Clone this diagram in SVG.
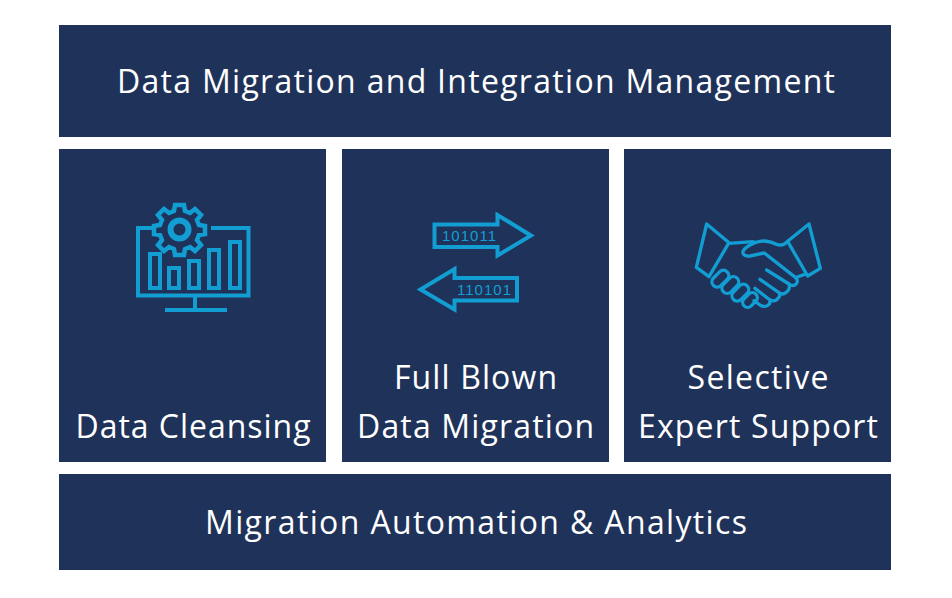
<svg xmlns="http://www.w3.org/2000/svg" width="952" height="598" viewBox="0 0 952 598">
<style>
.box{fill:#1f3259}
.t{font-family:"Open Sans","Noto Sans",sans-serif;font-size:32px;fill:#fff;text-anchor:middle;font-weight:400}
.i{fill:none;stroke:#129ed3;stroke-width:4;stroke-linejoin:miter}
.h{fill:none;stroke:#129ed3;stroke-width:10;stroke-linejoin:round;stroke-linecap:round}
.d{font-family:"Liberation Sans",sans-serif;font-size:15px;fill:#129ed3;text-anchor:middle}
</style>
<rect width="952" height="598" fill="#fff"/>
<g id="top"><rect class="box" x="59" y="25" width="832" height="112"/><text class="t" x="476" y="93" textLength="718" lengthAdjust="spacing">Data Migration and Integration Management</text></g>
<g id="cleansing"><rect class="box" x="59" y="149" width="267" height="313"/>
<g class="i"><path d="M152 228H138V295.500H248.500V228H211"/><path d="M195 297V310M165 310H227"/>
<rect x="150" y="254" width="10" height="34"/><rect x="169" y="268" width="10" height="20"/><rect x="189" y="261" width="10" height="27"/><rect x="209" y="250" width="10" height="38"/><rect x="230" y="242" width="10" height="46"/>
<circle cx="179.500" cy="229.500" r="9" stroke-width="6"/>
<path stroke-width="4.500" d="M175 205H184L185 211L190 213L195 209L201 215L197 220L199 225L205 226V234L199 235L197 240L201 245L195 251L190 247L185 249L184 255H175L174 249L169 247L164 251L158 245L162 240L160 235L154 234V226L160 225L162 220L158 215L164 209L169 213L174 211Z"/></g>
<text class="t" x="193" y="438" textLength="235" lengthAdjust="spacing">Data Cleansing</text></g>
<g id="migration"><rect class="box" x="342" y="149" width="267" height="313"/>
<path class="i" d="M434.500 224.500H497.500V215L531 235.500L497.500 255.500V247H434.500Z"/>
<path class="i" d="M517 278H454.500V269L420.500 289.500L454.500 309.500V300.500H517Z"/>
<text class="d" x="469" y="241" textLength="54" lengthAdjust="spacing">101011</text><text class="d" x="484" y="295" textLength="54" lengthAdjust="spacing">110101</text>
<text class="t" x="475.500" y="389" textLength="163" lengthAdjust="spacing">Full Blown</text><text class="t" x="475.500" y="438" textLength="237" lengthAdjust="spacing">Data Migration</text></g>
<g id="support"><rect class="box" x="624" y="149" width="267" height="313"/>
<g transform="translate(685 210) scale(.3333)" class="h">
<path d="M65 42L132 98L72 200L34 172Z"/><path d="M372 42L308 94L368 198L406 175Z"/>
<path d="M132 100L205 95"/>
<path d="M215 97C235 88 255 95 275 103C290 108 300 103 308 94"/>
<path d="M212 97C195 103 178 115 174 124C172 134 182 140 195 138L238 129L332 203C345 215 330 235 312 222L245 180"/>
<path d="M332 203L362 192"/>
<path d="M225 208L285 250M312 222C318 238 300 258 285 250"/>
<path d="M210 235L255 270M285 250C285 265 270 278 255 270"/>
<path d="M255 270C258 285 240 295 225 285L207 272"/>
<rect x="-29" y="-16" width="58" height="32" rx="16" transform="translate(106 206) rotate(-45)"/>
<rect x="-29" y="-16" width="58" height="32" rx="16" transform="translate(136 225) rotate(-45)"/>
<rect x="-29" y="-16" width="58" height="32" rx="16" transform="translate(166 248) rotate(-45)"/>
<rect x="-25" y="-15" width="50" height="30" rx="15" transform="translate(195 270) rotate(-45)"/>
</g>
<text class="t" x="758" y="389" textLength="141" lengthAdjust="spacing">Selective</text><text class="t" x="758" y="438" textLength="240" lengthAdjust="spacing">Expert Support</text></g>
<g id="bottom"><rect class="box" x="59" y="474" width="832" height="96"/><text class="t" x="476" y="534" textLength="542" lengthAdjust="spacing">Migration Automation &amp; Analytics</text></g>
<g id="connectors"/>
</svg>
